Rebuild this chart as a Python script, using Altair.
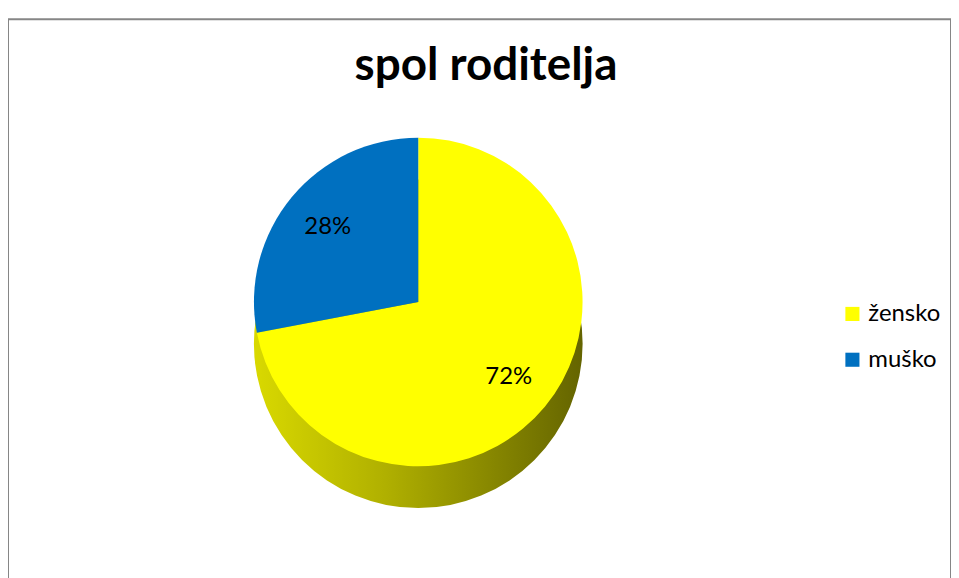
import altair as alt
import pandas as pd

categories = ["žensko", "muško"]
values = [72, 28]
labels = ["72%", "28%"]
order = [0, 1]
colors = ["#FFFF00", "#0070C0"]

df = pd.DataFrame({"spol": categories, "value": values, "label": labels, "ord": order})

CX, CY, R, DEPTH = 412, 284, 165, 42
FONT = "Lato"

base = alt.Chart(df)

side_grad = alt.Gradient(
    gradient="linear",
    stops=[
        alt.GradientStop(color="#d9d900", offset=0),
        alt.GradientStop(color="#b0b000", offset=0.4),
        alt.GradientStop(color="#646400", offset=1),
    ],
    x1=0, x2=1, y1=0, y2=0,
)

side = base.transform_aggregate(total="sum(value)").mark_arc(
    fill=side_grad, stroke=None, radius=R
).encode(
    theta=alt.Theta("total:Q"),
    x=alt.value(CX),
    y=alt.value(CY + DEPTH),
)

top = base.mark_arc(radius=R, stroke=None).encode(
    theta=alt.Theta("value:Q", stack=True),
    order=alt.Order("ord:Q"),
    color=alt.Color(
        "spol:N",
        scale=alt.Scale(domain=categories, range=colors),
        sort=categories,
        legend=alt.Legend(
            title=None,
            orient="none",
            legendX=836,
            legendY=284,
            symbolType="square",
            symbolSize=200,
            symbolStrokeWidth=0,
            labelFontSize=24,
            labelFont=FONT,
            labelColor="#000000",
            rowPadding=22,
            labelOffset=4,
        ),
    ),
    x=alt.value(CX),
    y=alt.value(CY),
)

text = base.mark_text(fontSize=24, font=FONT, color="#000000").encode(
    theta=alt.Theta("value:Q", stack=True),
    order=alt.Order("ord:Q"),
    radius=alt.value(118),
    text=alt.Text("label:N"),
    x=alt.value(CX),
    y=alt.value(CY),
)

title = alt.Chart(pd.DataFrame({"t": ["spol roditelja"]})).mark_text(
    fontSize=46, font=FONT, fontWeight="bold", color="#000000"
).encode(
    text="t:N",
    x=alt.value(480),
    y=alt.value(47),
)

chart = alt.layer(side, top, text, title).properties(
    width=947,
    height=570,
    padding={"left": 0, "top": 10, "right": 0, "bottom": 0},
    background="#ffffff",
).configure_view(
    stroke="#868686", strokeWidth=2
)

chart.save("out.html", embed_options={"renderer": "svg", "actions": False})
